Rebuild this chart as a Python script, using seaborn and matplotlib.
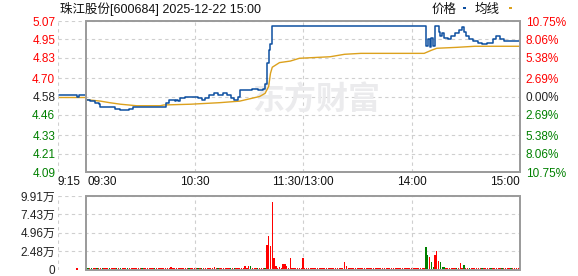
import matplotlib
matplotlib.use("Agg")
import matplotlib.pyplot as plt
import seaborn as sns
import pandas as pd
from matplotlib.patches import Rectangle
from matplotlib.transforms import blended_transform_factory

sns.set_theme(style="white")
plt.rcParams['font.family'] = ['Liberation Sans', 'Noto Sans CJK SC', 'DejaVu Sans']

# ---------------- data ----------------
title = "珠江股份[600684] 2025-12-22 15:00"
prev_close = 4.58
price_ticks = [4.09, 4.21, 4.33, 4.46, 4.58, 4.70, 4.83, 4.95, 5.07]
pct_labels = ["10.75%", "8.06%", "5.38%", "2.69%", "0.00%", "2.69%", "5.38%", "8.06%", "10.75%"]
time_pos = [-15.5, 0, 60, 120, 180, 240]
time_labels = ["9:15", "09:30", "10:30", "11:30/13:00", "14:00", "15:00"]

# pre-market (9:15-9:30), minutes relative to 9:30
pre_min = [-15, -5, -4, 0]
pre_price = [4.59, 4.58, 4.59, 4.59]
pre_avg_min = [-15, 0]
pre_avg = [4.58, 4.58]

# session price (change points, minutes after 9:30 on the trading clock)
price_min = [0, 2, 5, 7, 8, 16, 19, 24, 26, 44, 46, 49, 50, 51, 52, 55, 62, 64, 66, 68,
             71, 73, 76, 78, 80, 82, 84, 85, 92, 95, 98, 99, 100, 101, 102, 103, 188, 189,
             190, 191, 192, 193, 195, 196, 197, 198, 200, 202, 204, 206, 208, 209, 210, 212,
             214, 217, 219, 222, 225, 227, 229, 231, 240]
price_val = [4.56, 4.55, 4.54, 4.53, 4.51, 4.50, 4.49, 4.50, 4.51, 4.54, 4.56, 4.55, 4.56, 4.55,
             4.57, 4.58, 4.57, 4.56, 4.57, 4.59, 4.60, 4.59, 4.60, 4.59, 4.57, 4.56, 4.58, 4.62,
             4.63, 4.62, 4.63, 4.66, 4.80, 4.88, 4.92, 5.04, 4.91, 4.95, 4.90, 4.96, 4.91, 5.04,
             5.00, 4.97, 4.99, 4.96, 4.95, 4.97, 4.99, 5.01, 5.03, 5.00, 4.97, 4.95, 4.94, 4.93,
             4.92, 4.93, 4.95, 4.97, 4.95, 4.94, 4.94]

avg_min = [0, 8, 13, 19, 28, 41, 43, 58, 74, 85, 96, 99, 101, 102, 103, 107, 113, 118, 135,
           143, 152, 187, 191, 194, 205, 215, 240]
avg_val = [4.56, 4.55, 4.54, 4.53, 4.52, 4.52, 4.525, 4.53, 4.54, 4.55, 4.58, 4.60, 4.645, 4.73,
           4.77, 4.80, 4.81, 4.828, 4.838, 4.854, 4.86, 4.86, 4.88, 4.893, 4.899, 4.906, 4.906]

# volume in 万 shares, one value per minute 0..240
vol = [
    0.2, 0.15, 0.15, 0.15, 0.15, 0.15, 0.15, 0.15, 0.15, 0.15,
    0.15, 0.15, 0.15, 0.15, 0.15, 0.15, 0.15, 0.15, 0.15, 0.15,
    0.15, 0.15, 0.15, 0.15, 0.15, 0.15, 0.15, 0.15, 0.15, 0.15,
    0.15, 0.15, 0.15, 0.15, 0.15, 0.15, 0.15, 0.15, 0.15, 0.15,
    0.15, 0.15, 0.15, 0.15, 0.2, 0.15, 0.15, 0.3, 0.15, 0.15,
    0.15, 0.15, 0.15, 0.15, 0.15, 0.2, 0.15, 0.15, 0.15, 0.15,
    0.15, 0.15, 0.15, 0.15, 0.15, 0.15, 0.15, 0.15, 0.15, 0.15,
    0.15, 0.3, 0.15, 0.15, 0.15, 0.15, 0.15, 0.15, 0.15, 0.15,
    0.15, 0.15, 0.15, 0.15, 0.15, 0.2, 0.15, 0.15, 0.5, 0.2,
    0.45, 0.45, 0.15, 0.15, 0.15, 0.15, 0.15, 0.15, 0.2, 0.15,
    3.28, 4.5, 3.15, 9.15, 1.57, 0.5, 0.15, 0.3, 0.15, 0.7,
    0.7, 0.5, 0.15, 1.57, 0.15, 0.15, 0.15, 0.15, 0.15, 0.15,
    1.57, 0.15, 0.15, 0.15, 0.15, 0.15, 0.15, 0.15, 0.15, 0.15,
    0.15, 0.15, 0.15, 0.15, 0.15, 0.15, 0.15, 0.15, 0.15, 0.15,
    0.15, 0.15, 0.15, 1.0, 0.5, 0.15, 0.15, 0.15, 0.15, 0.15,
    0.2, 0.15, 0.15, 0.15, 0.15, 0.15, 0.15, 0.15, 0.15, 0.15,
    0.15, 0.15, 0.15, 0.15, 0.15, 0.15, 0.15, 0.15, 0.15, 0.15,
    0.15, 0.15, 0.15, 0.15, 0.15, 0.15, 0.15, 0.15, 0.15, 0.15,
    0.15, 0.15, 0.15, 0.15, 0.15, 0.15, 0.15, 0.15, 3.05, 1.93,
    1.7, 1.0, 0.35, 2.0, 2.5, 1.16, 1.0, 0.3, 0.3, 0.15,
    0.15, 0.15, 0.15, 0.15, 0.15, 0.2, 0.15, 0.9, 0.15, 0.6,
    0.2, 0.15, 0.15, 0.15, 0.15, 0.15, 0.15, 0.15, 0.15, 0.15,
    0.15, 0.15, 0.15, 0.15, 0.15, 0.15, 0.15, 0.15, 0.15, 0.2,
    0.25, 0.15, 0.15, 0.15, 0.15, 0.15, 0.15, 0.15, 0.15, 0.15,
    0.3,
]
down_minutes = [1, 3, 6, 9, 13, 17, 19, 23, 31, 38, 57, 62, 64, 73, 80, 82, 91, 95, 99,
                188, 189, 191, 192, 196, 197, 198, 205, 209, 212, 219, 224, 230, 235]
pre_vol_min = [-5]
pre_vol = [0.15]

vol_ticks = [0, 2.48, 4.96, 7.43, 9.91]
vol_tick_labels = ["0", "2.48万", "4.96万", "7.43万", "9.91万"]

# ---------------- styling ----------------
RED = "#ff0000"
GREEN = "#008000"
DARK = "#222222"
BLUE = "#0d4fa0"
ORANGE = "#dca11d"
GRID = "#cfcfcf"
FRAME = "#9a9a9a"
FS = 8.5

W, H = 578, 276
fig = plt.figure(figsize=(W / 100, H / 100), dpi=100)
fig.patch.set_facecolor("white")


def box(l, t, r, b):
    return [l / W, 1 - b / H, (r - l) / W, (b - t) / H]


ax = fig.add_axes(box(58, 21, 520, 172))
axv = fig.add_axes(box(58, 196, 520, 269.5))

XMIN, XMAX = -15.5, 240
dash = (0, (3, 3))

# ---------------- price panel ----------------
ax.set_xlim(XMIN, XMAX)
ax.set_ylim(price_ticks[0], price_ticks[-1])
for s in ax.spines.values():
    s.set_visible(False)
for y in price_ticks:
    ax.axhline(y, color=GRID, ls=dash, lw=0.8, zorder=0)
for x in [XMIN, 60, 120, 180]:
    ax.axvline(x, color=GRID, ls=dash, lw=0.8, zorder=0)
ax.add_patch(Rectangle((0, price_ticks[0]), 240, price_ticks[-1] - price_ticks[0],
                       fill=False, edgecolor=FRAME, lw=1.4, zorder=4, clip_on=False))

# watermark
ax.text(127, 4.555, "东方财富", fontsize=23, fontweight="bold", color="#ebebed",
        ha="center", va="center", zorder=0.5, family=['Noto Sans CJK SC'])

pre_df = pd.DataFrame({"m": pre_min, "p": pre_price})
pre_avg_df = pd.DataFrame({"m": pre_avg_min, "p": pre_avg})
price_df = pd.DataFrame({"m": price_min, "p": price_val})
avg_df = pd.DataFrame({"m": avg_min, "p": avg_val})

sns.lineplot(data=pre_avg_df, x="m", y="p", ax=ax, color=ORANGE, lw=1.0, zorder=2)
sns.lineplot(data=pre_df, x="m", y="p", ax=ax, color=BLUE, lw=1.1, zorder=3,
             drawstyle="steps-post")
sns.lineplot(data=avg_df, x="m", y="p", ax=ax, color=ORANGE, lw=1.0, zorder=2)
sns.lineplot(data=price_df, x="m", y="p", ax=ax, color=BLUE, lw=1.1, zorder=3,
             drawstyle="steps-post")
ax.set_xlabel("")
ax.set_ylabel("")

ax.set_xticks([])
ax.set_yticks(price_ticks)
ax.set_yticklabels([f"{v:.2f}" for v in price_ticks], fontsize=FS)
ax.tick_params(axis="y", length=0, pad=2)


def lvl_color(v):
    if abs(v - prev_close) < 1e-9:
        return DARK
    return RED if v > prev_close else GREEN


for lab, v in zip(ax.get_yticklabels(), price_ticks):
    lab.set_color(lvl_color(v))

ax2 = ax.twinx()
ax2.set_ylim(ax.get_ylim())
ax2.set_yticks(price_ticks)
ax2.set_yticklabels(pct_labels[::-1], fontsize=FS)
ax2.tick_params(axis="y", length=0, pad=4)
for s in ax2.spines.values():
    s.set_visible(False)
for lab, v in zip(ax2.get_yticklabels(), price_ticks):
    lab.set_color(lvl_color(v))
ax2.grid(False)

trans = blended_transform_factory(ax.transData, ax.transAxes)
aligns = ["left", "left", "center", "center", "center", "right"]
for xp, lab, ha in zip(time_pos, time_labels, aligns):
    ax.text(xp + (0.6 if lab == "09:30" else 0), -10 / 151, lab, transform=trans,
            ha=ha, va="center", fontsize=FS, color="#111111")

# ---------------- volume panel ----------------
axv.set_xlim(XMIN, XMAX)
axv.set_ylim(0, vol_ticks[-1])
for s in axv.spines.values():
    s.set_visible(False)
for y in vol_ticks[1:]:
    axv.axhline(y, color=GRID, ls=dash, lw=0.8, zorder=0)
for x in [XMIN, 60, 120, 180]:
    axv.axvline(x, color=GRID, ls=dash, lw=0.8, zorder=0)
axv.add_patch(Rectangle((0, 0), 240, vol_ticks[-1], fill=False, edgecolor=FRAME,
                        lw=1.4, zorder=4, clip_on=False))

minutes = list(range(len(vol)))
colors = [GREEN if m in down_minutes else RED for m in minutes]
axv.bar(minutes, vol, width=0.75, color=colors, linewidth=0, zorder=2)
axv.bar(pre_vol_min, pre_vol, width=0.75, color=RED, linewidth=0, zorder=2)

axv.set_xticks([])
axv.set_yticks(vol_ticks)
axv.set_yticklabels(vol_tick_labels, fontsize=FS, color=DARK)
axv.tick_params(axis="y", length=0, pad=2)

# ---------------- title & legend ----------------
fig.text(60 / W, 1 - 9.5 / H, title, fontsize=9, ha="left", va="center", color="#111111")
fig.text(432 / W, 1 - 10 / H, "价格", fontsize=9, ha="left", va="center", color="#111111")
fig.patches.append(Rectangle((462.5 / W, 1 - 9.3 / H), 3.5 / W, 2.6 / H,
                             transform=fig.transFigure, facecolor=BLUE, edgecolor="none"))
fig.text(475 / W, 1 - 10 / H, "均线", fontsize=9, ha="left", va="center", color="#111111")
fig.patches.append(Rectangle((508.5 / W, 1 - 9.3 / H), 3.5 / W, 2.6 / H,
                             transform=fig.transFigure, facecolor=ORANGE, edgecolor="none"))

fig.savefig("out.png", dpi=100, facecolor="white")
